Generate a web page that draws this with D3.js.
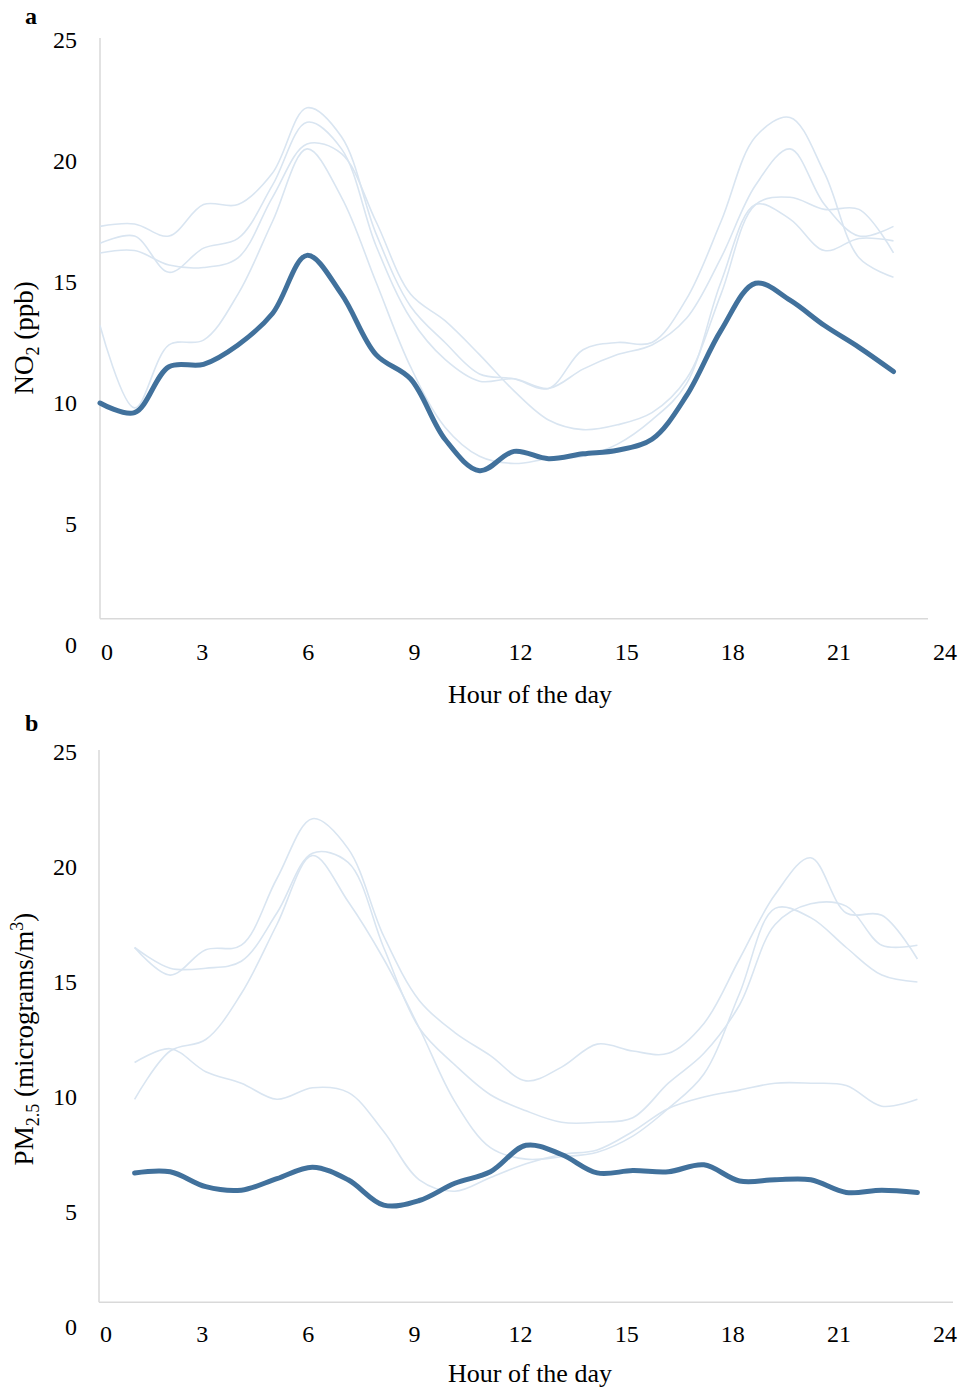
<!DOCTYPE html>
<html>
<head>
<meta charset="utf-8">
<script src="https://cdn.jsdelivr.net/npm/d3@7"></script>
<style>
  html, body { margin: 0; padding: 0; background: #fff; }
  svg { display: block; font-family: "Liberation Serif", "Times New Roman", serif; }
</style>
</head>
<body>
<div id="chart"></div>
<script>
// Data (hourly means)
const hoursNO2 = [0, 1, 2, 3, 4, 5, 6, 7, 8, 9, 10, 11, 12, 13, 14, 15, 16, 17, 18, 19, 20, 21, 22, 23];
const no2Main  = [10.0, 9.6, 11.5, 11.6, 12.4, 13.7, 16.1, 14.5, 12.0, 11.0, 8.5, 7.2, 8.0, 7.7, 7.9, 8.05, 8.5, 10.3, 13.0, 14.95, 14.25, 13.2, 12.3, 11.3];
const no2Site1 = [17.3, 17.4, 16.9, 18.2, 18.2, 19.5, 22.2, 21.0, 17.0, 14.0, 12.5, 11.2, 11.0, 10.6, 12.2, 12.5, 12.5, 14.3, 17.5, 21.0, 21.8, 19.5, 16.0, 15.2];
const no2Site2 = [16.6, 16.9, 15.4, 16.4, 16.8, 19.0, 21.6, 20.5, 16.5, 13.5, 11.8, 10.9, 11.0, 10.6, 11.4, 12.0, 12.4, 13.5, 16.0, 19.0, 20.5, 18.2, 16.9, 17.3];
const no2Site3 = [16.2, 16.3, 15.7, 15.6, 16.0, 18.5, 20.7, 20.3, 17.5, 14.5, 13.4, 12.0, 10.5, 9.3, 8.9, 9.1, 9.6, 11.0, 14.5, 18.2, 18.5, 18.0, 18.0, 16.2];
const no2Site4 = [13.2, 9.8, 12.4, 12.6, 14.5, 17.5, 20.5, 18.5, 15.0, 11.5, 9.0, 7.8, 7.5, 7.7, 7.8, 8.3, 9.3, 10.8, 15.0, 18.2, 17.6, 16.3, 16.8, 16.7];

const hoursPM = [1, 2, 3, 4, 5, 6, 7, 8, 9, 10, 11, 12, 13, 14, 15, 16, 17, 18, 19, 20, 21, 22, 23];
const pmMain  = [6.7, 6.75, 6.1, 5.95, 6.45, 6.95, 6.4, 5.3, 5.5, 6.25, 6.75, 7.9, 7.5, 6.7, 6.8, 6.75, 7.05, 6.35, 6.4, 6.4, 5.85, 5.95, 5.85];
const pmSite1 = [16.5, 15.3, 16.4, 16.6, 19.5, 22.1, 20.8, 17.0, 14.2, 12.8, 11.8, 10.7, 11.3, 12.3, 12.0, 11.9, 13.2, 16.0, 18.8, 20.4, 18.0, 17.9, 16.0];
const pmSite2 = [16.5, 15.6, 15.6, 15.9, 18.0, 20.6, 20.2, 16.5, 13.0, 11.4, 10.1, 9.4, 8.9, 8.9, 9.1, 10.6, 11.9, 14.0, 17.5, 18.4, 18.3, 16.6, 16.6];
const pmSite3 = [9.9, 12.0, 12.5, 14.5, 17.5, 20.5, 18.5, 16.0, 13.0, 9.8, 7.8, 7.3, 7.4, 7.6, 8.3, 9.5, 11.0, 14.5, 18.2, 17.8, 16.5, 15.3, 15.0];
const pmSite4 = [11.5, 12.1, 11.1, 10.6, 9.9, 10.4, 10.2, 8.5, 6.4, 5.9, 6.5, 7.1, 7.5, 7.7, 8.5, 9.5, 10.0, 10.3, 10.6, 10.6, 10.5, 9.6, 9.9];

const xTicks = [0, 3, 6, 9, 12, 15, 18, 21, 24];
const yTicks = [0, 5, 10, 15, 20, 25];

// Layout
const WIDTH = 960, HEIGHT = 1389;
const MAIN_COLOR = '#41719c';
const SITE_COLOR = '#d9e5f1';
const AXIS_COLOR = '#d9d9d9';
const AXIS_FLOOR = 1.08; // baseline sits slightly above the "0" label in the figure

const panels = [
    {
        letter: 'a', letterY: 24,
        hours: hoursNO2, main: no2Main, sites: [no2Site1, no2Site2, no2Site3, no2Site4],
        xRange: [100, 928], labelRange: [96, 945], yRange: [645, 40],
        yTitle: ['NO', '2', ' (ppb)', null], yTitleY: 338, xTitleY: 703
    },
    {
        letter: 'b', letterY: 731,
        hours: hoursPM, main: pmMain, sites: [pmSite1, pmSite2, pmSite3, pmSite4],
        xRange: [99, 953], labelRange: [96, 945], yRange: [1327, 752],
        yTitle: ['PM', '2.5', ' (micrograms/m', '3'], yTitleY: 1039, xTitleY: 1382
    }
];

const svg = d3.select('#chart').append('svg')
    .attr('width', WIDTH)
    .attr('height', HEIGHT);

panels.forEach(p => {
    const x = d3.scaleLinear().domain([0, 24]).range(p.xRange);
    const xLabel = d3.scaleLinear().domain([0, 24]).range(p.labelRange);
    const y = d3.scaleLinear().domain([0, 25]).range(p.yRange);
    const g = svg.append('g');

    // Axis lines
    g.append('line')
        .attr('x1', x(0)).attr('x2', x(0))
        .attr('y1', y(25) - 2).attr('y2', y(AXIS_FLOOR))
        .attr('stroke', AXIS_COLOR).attr('stroke-width', 1.5);
    g.append('line')
        .attr('x1', x(0)).attr('x2', x(24))
        .attr('y1', y(AXIS_FLOOR)).attr('y2', y(AXIS_FLOOR))
        .attr('stroke', AXIS_COLOR).attr('stroke-width', 1.5);

    // Tick labels
    g.selectAll('.ytick')
        .data(yTicks)
        .enter().append('text')
        .attr('x', 77)
        .attr('y', d => y(d))
        .attr('dy', '0.35em')
        .attr('text-anchor', 'end')
        .style('font-size', '24px')
        .text(d => d);

    // the "0" label is pushed clear of the vertical axis
    g.selectAll('.xtick')
        .data(xTicks)
        .enter().append('text')
        .attr('x', d => Math.max(xLabel(d), x(0) + 7))
        .attr('y', y(0) + 7)
        .attr('dy', '0.35em')
        .attr('text-anchor', 'middle')
        .style('font-size', '24px')
        .text(d => d);

    // Lines
    const line = d3.line()
        .x(d => x(d[0]))
        .y(d => y(d[1]))
        .curve(d3.curveCatmullRom.alpha(0.5));

    p.sites.forEach(s => {
        g.append('path')
            .datum(p.hours.map((h, i) => [h, s[i]]))
            .attr('d', line)
            .attr('fill', 'none')
            .attr('stroke', SITE_COLOR)
            .attr('stroke-width', 1.6);
    });

    g.append('path')
        .datum(p.hours.map((h, i) => [h, p.main[i]]))
        .attr('d', line)
        .attr('fill', 'none')
        .attr('stroke', MAIN_COLOR)
        .attr('stroke-width', 5)
        .attr('stroke-linecap', 'round')
        .attr('stroke-linejoin', 'round');

    // Panel letter
    g.append('text')
        .attr('x', 25).attr('y', p.letterY)
        .style('font-size', '24px')
        .style('font-weight', 'bold')
        .text(p.letter);

    // Axis titles
    g.append('text')
        .attr('x', 530).attr('y', p.xTitleY)
        .attr('text-anchor', 'middle')
        .style('font-size', '26px')
        .text('Hour of the day');

    const yt = g.append('text')
        .attr('transform', `translate(33,${p.yTitleY}) rotate(-90)`)
        .attr('text-anchor', 'middle')
        .style('font-size', '27px');
    yt.append('tspan').text(p.yTitle[0]);
    yt.append('tspan').attr('dy', 6).style('font-size', '18px').text(p.yTitle[1]);
    yt.append('tspan').attr('dy', -6).text(p.yTitle[2]);
    if (p.yTitle[3]) {
        yt.append('tspan').attr('dy', -10).style('font-size', '18px').text(p.yTitle[3]);
        yt.append('tspan').attr('dy', 10).text(')');
    }
});
</script>
</body>
</html>
